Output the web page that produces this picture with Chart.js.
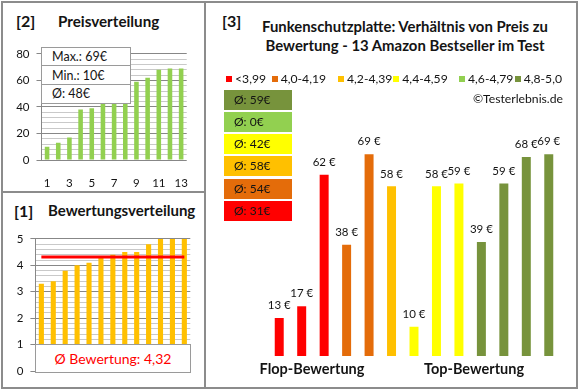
<!DOCTYPE html>
<html><head><meta charset="utf-8">
<script src="https://cdn.jsdelivr.net/npm/chart.js@4.4.1/dist/chart.umd.min.js"></script>
<style>
body{margin:0;background:#fff;}
#wrap{position:relative;width:580px;height:390px;overflow:hidden;background:#fff;font-family:Lato,'Open Sans',sans-serif;color:#141414;}
canvas{position:absolute;}
</style></head><body>
<div id="wrap"></div>
<script>
// ---------- DATA ----------
const rankLabels = ['1','2','3','4','5','6','7','8','9','10','11','12','13'];
const priceSorted = [10,13,17,38,39,58,58,59,59,62,68,69,69];
const ratingSorted = [3.3,3.4,3.8,4.0,4.1,4.3,4.4,4.5,4.5,4.8,5.0,5.0,5.0];
const ratingAvg = 4.32;
const ratingAvgText = 'Ø Bewertung: 4,32';
const priceStats = ['Max.: 69€','Min.: 10€','Ø: 48€'];
const productPrices = [13,17,62,38,69,58,10,58,59,39,59,68,69];
const productGroup = [0,0,0,1,1,2,3,3,3,5,5,5,5];
const groupLabels = ['<3,99','4,0-4,19','4,2-4,39','4,4-4,59','4,6-4,79','4,8-5,0'];
const groupAvg = [31,54,58,42,0,59];
const titleLines = ['Funkenschutzplatte: Verhältnis von Preis zu','Bewertung - 13 Amazon Bestseller im Test'];

// ---------- STYLE ----------
const groupColors = ['#FF0000','#E46C0A','#FFC000','#FFFF00','#92D050','#77933C'];
const FONT = 'Lato';
const majorC = '#878787', minorC = '#c9c9c9', textC = '#141414';

const wrap = document.getElementById('wrap');
function el(tag, css, text){ const e=document.createElement(tag); e.style.cssText=css; if(text!=null) e.textContent=text; wrap.appendChild(e); return e; }

// frame
el('div','position:absolute;left:1px;top:1px;width:577px;height:388px;box-sizing:border-box;border:2px solid #8c8c8c;');
el('div','position:absolute;left:204px;top:1px;width:2px;height:388px;background:#8c8c8c;');
el('div','position:absolute;left:1px;top:191px;width:204px;height:2px;background:#8c8c8c;');

// titles
el('div','position:absolute;left:16px;top:11px;line-height:20px;font-size:16px;font-weight:bold;','[2]');
el('div','position:absolute;left:58px;top:11px;line-height:20px;font-size:15.2px;font-weight:bold;','Preisverteilung');
el('div','position:absolute;left:14px;top:201px;line-height:20px;font-size:16px;font-weight:bold;','[1]');
el('div','position:absolute;left:48px;top:200px;line-height:20px;font-size:15px;font-weight:bold;','Bewertungsverteilung');
el('div','position:absolute;left:222px;top:11px;line-height:20px;font-size:16px;font-weight:bold;','[3]');
titleLines.forEach((t,i)=>el('div','position:absolute;left:205px;width:400px;text-align:center;top:'+(17+i*19.3)+'px;line-height:19px;font-size:14.9px;font-weight:bold;',t));

function mkCanvas(l,t,w,h){ const c=el('canvas','left:'+l+'px;top:'+t+'px;width:'+w+'px;height:'+h+'px;'); c.width=w; c.height=h; return c; }

Chart.defaults.font.family = FONT;
Chart.defaults.color = textC;
Chart.defaults.animation = false;

// ---------- Chart [2] ----------
const c2 = mkCanvas(0,40,196,150);
new Chart(c2,{type:'bar',
 data:{labels:rankLabels,datasets:[{data:priceSorted,backgroundColor:'#92D050',barPercentage:0.41,categoryPercentage:1}]},
 options:{responsive:false,maintainAspectRatio:false,layout:{padding:{top:8,right:5,left:0,bottom:0}},
  plugins:{legend:{display:false},tooltip:{enabled:false}},
  scales:{
   x:{grid:{display:false},border:{display:false},afterFit:s=>{s.height=30;},
      ticks:{autoSkip:false,maxRotation:0,padding:8,font:{size:11.5},callback:(v,i)=> i%2===0 ? rankLabels[i] : ''}},
   y:{min:0,max:80,afterFit:s=>{s.width=41.5;},
      border:{display:true,color:majorC},
      grid:{color:c=> (c.tick && c.tick.value%20===0)?majorC:minorC, tickLength:5, tickColor:c=> (c.tick && c.tick.value%20===0)?majorC:'rgba(0,0,0,0)'},
      ticks:{autoSkip:false,stepSize:4,padding:7,font:{size:11.5},callback:v=> v%20===0 ? String(v) : ''}}
  }}});
// stats box
el('div','position:absolute;left:41px;top:47px;width:90px;height:57px;box-sizing:border-box;border:1px solid #9a9a9a;background:#fff;');
priceStats.forEach((t,i)=>{ el('div','position:absolute;left:42px;top:'+(48+i*18.7)+'px;width:88px;height:18px;line-height:18px;font-size:12.5px;padding-left:10px;box-sizing:border-box;'+(i<2?'border-bottom:1px solid #9a9a9a;':''),t); });

// ---------- Chart [1] ----------
const c1 = mkCanvas(0,225,196,160);
const isInt = v => Math.abs(v-Math.round(v))<1e-6;
new Chart(c1,{type:'bar',
 data:{labels:rankLabels,datasets:[
  {type:'line',data:rankLabels.map(()=>ratingAvg),borderColor:'#FF0000',borderWidth:3,pointRadius:0,order:0},
  {data:ratingSorted,backgroundColor:'#FFC000',barPercentage:0.43,categoryPercentage:1,order:1}]},
 options:{responsive:false,maintainAspectRatio:false,layout:{padding:{top:12.7,right:5.7,left:0,bottom:11.3}},
  plugins:{legend:{display:false},tooltip:{enabled:false}},
  scales:{
   x:{display:false},
   y:{min:0,max:5,afterFit:s=>{s.width=35.4;},
      border:{display:true,color:majorC},
      grid:{color:c=> (c.tick && isInt(c.tick.value))?majorC:minorC, tickLength:5, tickColor:c=> (c.tick && isInt(c.tick.value))?majorC:'rgba(0,0,0,0)'},
      ticks:{autoSkip:false,stepSize:0.2,padding:7,font:{size:11.5},callback:v=> isInt(v) ? String(Math.round(v)) : ''}}
  }}});
el('div','position:absolute;left:35px;top:344px;width:156px;height:29px;box-sizing:border-box;border:1px solid #9a9a9a;background:#fff;color:#FF0000;font-size:14px;text-align:center;line-height:27px;',ratingAvgText);

// ---------- Chart [3] ----------
const legX = [226,271.7,338,393.3,459,514.7];
groupLabels.forEach((t,g)=>{
  el('div','position:absolute;left:'+legX[g]+'px;top:76px;width:6px;height:6px;background:'+groupColors[g]+';');
  el('div','position:absolute;left:'+(legX[g]+9)+'px;top:70px;line-height:18px;font-size:12.2px;',t);
});
el('div','position:absolute;right:17px;top:90px;line-height:18px;font-size:12.2px;','©Testerlebnis.de');
[5,4,3,2,1,0].forEach((g,k)=>{
  el('div','position:absolute;left:224px;top:'+(89.7+k*22.2)+'px;width:68px;height:20px;line-height:20px;font-size:12px;padding-left:10px;box-sizing:border-box;background:'+groupColors[g]+';','Ø: '+groupAvg[g]+'€');
});
const c3 = mkCanvas(268,122,292,234);
const valueLabels = {id:'valueLabels',afterDatasetsDraw(chart){
  const ctx=chart.ctx; ctx.save(); ctx.font='11.5px '+FONT; ctx.fillStyle=textC; ctx.textAlign='center'; ctx.textBaseline='middle';
  chart.data.datasets.forEach((ds,di)=>{ chart.getDatasetMeta(di).data.forEach((b,i)=>{ const v=ds.data[i]; if(v==null) return; ctx.fillText(v+' €', b.x, b.y-12.5); }); });
  ctx.restore(); }};
new Chart(c3,{type:'bar',
 data:{labels:rankLabels,datasets:groupLabels.map((lab,g)=>({label:lab,
   data:productPrices.map((p,i)=> productGroup[i]===g ? p : null),
   backgroundColor:groupColors[g],barPercentage:0.4,categoryPercentage:1,grouped:false}))},
 options:{responsive:false,maintainAspectRatio:false,layout:{padding:0},
  plugins:{legend:{display:false},tooltip:{enabled:false}},
  scales:{x:{display:false},y:{display:false,min:0,max:80}}},
 plugins:[valueLabels]});
el('div','position:absolute;left:232px;width:160px;text-align:center;top:359px;line-height:20px;font-size:14.5px;font-weight:bold;','Flop-Bewertung');
el('div','position:absolute;left:394px;width:160px;text-align:center;top:359px;line-height:20px;font-size:14.5px;font-weight:bold;','Top-Bewertung');
</script>
</body></html>
